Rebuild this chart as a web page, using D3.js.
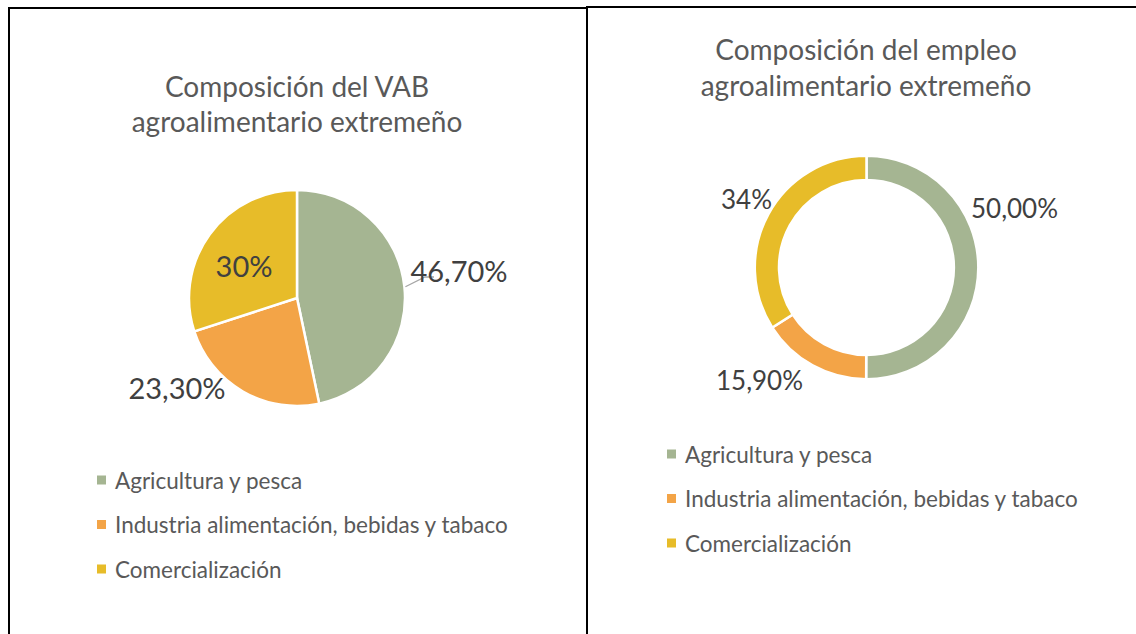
<!DOCTYPE html>
<html>
<head>
<meta charset="utf-8">
<script src="https://cdn.jsdelivr.net/npm/d3@7"></script>
<style>
  html, body { margin: 0; padding: 0; background: #fff; }
  svg { display: block; }
  text { font-family: Lato, "Open Sans", sans-serif; }
</style>
</head>
<body>
<svg id="chart" width="1136" height="634"></svg>
<script>
// ---- data ----
const categories = ["Agricultura y pesca", "Industria alimentación, bebidas y tabaco", "Comercialización"];
const vabValues = [46.7, 23.3, 30];
const vabLabels = ["46,70%", "23,30%", "30%"];
const empleoValues = [50, 15.9, 34];
const empleoLabels = ["50,00%", "15,90%", "34%"];
const vabTitle = ["Composición del VAB", "agroalimentario extremeño"];
const empleoTitle = ["Composición del empleo", "agroalimentario extremeño"];

// ---- styles ----
const colors = ["#A5B592", "#F3A447", "#E7BC29"];
const color = d3.scaleOrdinal().domain(categories).range(colors);
const svg = d3.select("#chart");

// borders
const border = svg.append("g").attr("stroke", "#000").attr("stroke-width", 2).attr("fill", "none");
border.append("path").attr("d", "M9,634 V8 H587");
border.append("path").attr("d", "M587,634 V7 H1136");

function drawChart(opts) {
  const g = svg.append("g");
  // title
  g.append("text")
    .attr("x", opts.cx).attr("y", opts.titleY)
    .attr("text-anchor", "middle")
    .attr("fill", "#595959")
    .attr("font-size", opts.titleSize)
    .selectAll("tspan").data(opts.title).join("tspan")
    .attr("x", opts.cx)
    .attr("dy", (d, i) => i === 0 ? 0 : opts.titleLead)
    .text(d => d);

  const pie = d3.pie().sort(null).value(d => d.v);
  const data = pie(categories.map((c, i) => ({ c, v: opts.values[i], label: opts.labels[i] })));
  const arc = d3.arc().innerRadius(opts.inner).outerRadius(opts.outer);
  const pg = g.append("g").attr("transform", `translate(${opts.pcx},${opts.pcy})`);
  pg.selectAll("path.slice").data(data).join("path")
    .attr("class", "slice")
    .attr("d", arc)
    .attr("fill", d => color(d.data.c))
    .attr("stroke", "#fff")
    .attr("stroke-width", opts.sep);

  if (opts.leader) {
    const a = data[opts.leader.index];
    const mid = (a.startAngle + a.endAngle) / 2;
    const r0 = opts.outer + 1;
    const p0 = [Math.sin(mid) * r0, -Math.cos(mid) * r0];
    pg.append("path")
      .attr("d", `M${p0[0]},${p0[1]} L${opts.leader.to[0]},${opts.leader.to[1]} h${opts.leader.h}`)
      .attr("stroke", "#A6A6A6").attr("stroke-width", 1.3).attr("fill", "none");
  }

  // labels
  pg.selectAll("text.lbl").data(data).join("text")
    .attr("class", "lbl")
    .attr("x", (d, i) => opts.labelPos[i][0])
    .attr("y", (d, i) => opts.labelPos[i][1])
    .attr("text-anchor", "middle")
    .attr("dominant-baseline", "central")
    .attr("fill", "#404040")
    .attr("font-size", opts.labelSize)
    .text(d => d.data.label);

  // legend
  const lg = g.append("g").attr("transform", `translate(${opts.legX},${opts.legY})`);
  const items = lg.selectAll("g").data(categories).join("g")
    .attr("transform", (d, i) => `translate(0,${i * opts.legStep})`);
  items.append("rect").attr("x", 0).attr("y", -4.5).attr("width", 9).attr("height", 9)
    .attr("fill", d => color(d));
  items.append("text").attr("x", 18).attr("y", 0)
    .attr("dominant-baseline", "central")
    .attr("fill", "#595959").attr("font-size", opts.legSize)
    .text(d => d);
}

drawChart({
  cx: 297, titleY: 97, titleSize: 28, titleLead: 35, title: vabTitle,
  pcx: 297, pcy: 298, inner: 0, outer: 108, sep: 2.5,
  values: vabValues, labels: vabLabels, labelSize: 29,
  labelPos: [[162, -28], [-120, 89], [-53, -33]],
  leader: { index: 0, to: [128, -21], h: 9 },
  legX: 97, legY: 480, legStep: 44.5, legSize: 22.5
});

drawChart({
  cx: 866, titleY: 60, titleSize: 28, titleLead: 36, title: empleoTitle,
  pcx: 866.5, pcy: 267.5, inner: 87.5, outer: 111.7, sep: 2.5,
  values: empleoValues, labels: empleoLabels, labelSize: 26,
  labelPos: [[148, -60], [-107, 112], [-120, -69]],
  leader: null,
  legX: 667, legY: 454, legStep: 44.5, legSize: 22.5
});
</script>
</body>
</html>
